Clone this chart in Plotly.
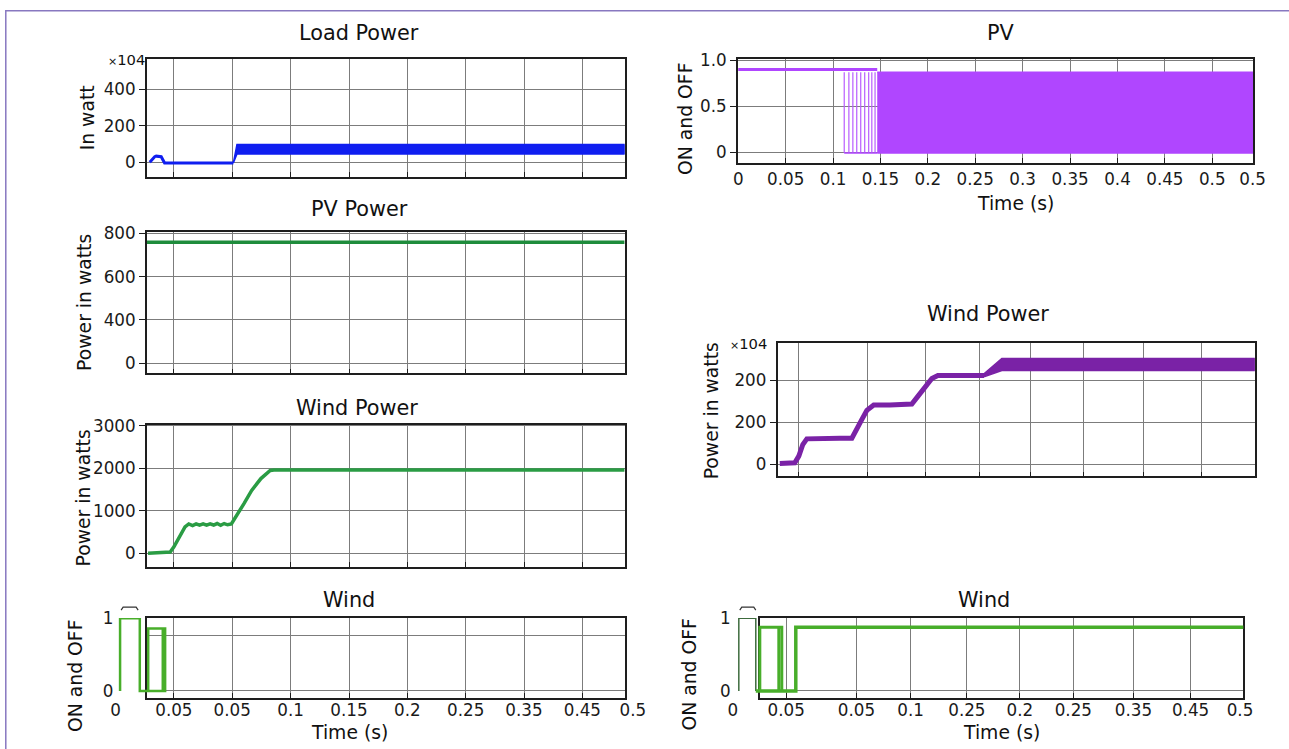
import plotly.graph_objects as go

W, H = 1289, 749
# the captured picture shows the page scaled by ~0.985 with a small offset;
# positions below are given in reference-picture pixels and mapped back to page pixels
S, OX, OY = 0.985, 6.0, 8.5

# ---------------- data ----------------
# Load Power (x10^4 W) vs time (s)
load_t = [0.0293, 0.0335, 0.0348, 0.0391, 0.0420, 0.1009]
load_p = [0, 30, 33, 30, -5, -5]
load_band_t = [0.1009, 0.1040, 0.4361]
load_band_hi = [-5, 97, 97]
load_band_lo = [-5, 45, 45]

# PV Power (W)
pv_power_t = [0.0268, 0.4361]
pv_power_w = [760, 760]

# Wind Power, left (W)
wind_t = [0.0278, 0.0360, 0.0440, 0.0468, 0.0500, 0.0546, 0.0595, 0.0627, 0.0660,
          0.0690, 0.0720, 0.0750, 0.0780, 0.0810, 0.0840, 0.0870, 0.0900, 0.0930,
          0.0960, 0.0992, 0.1040, 0.1100, 0.1166, 0.1245, 0.1325, 0.1357, 0.4361]
wind_w = [0, 20, 25, 30, 150, 385, 620, 690, 650, 690, 660, 690, 660, 690, 665,
          700, 660, 700, 670, 690, 890, 1170, 1480, 1760, 1950, 1960, 1960]

# Wind ON/OFF, bottom left
wl_t = [0.0039, 0.0039, 0.0208, 0.0208, 0.0425, 0.0425, 0.0280, 0.0280]
wl_s = [0, 1, 1, 0, 0, 0.86, 0.86, 0]
wl_edge_t = [0.0405, 0.0405]
wl_edge_s = [0, 0.86]

# PV ON/OFF (top right)
pv_level_t = [0.0, 0.1466]
pv_level = [0.902, 0.902]
pv_comb_t = [0.1118, 0.1167, 0.1209, 0.1250, 0.1292, 0.1334, 0.1376, 0.1409, 0.1443]
pv_on, pv_off = 0.87, -0.01
pv_band_t = [0.1466, 0.5433]

# Wind Power, right (x10^4 W)
wp_t = [0.0024, 0.0181, 0.0223, 0.0265, 0.0307, 0.0443, 0.0548, 0.0653, 0.0779,
        0.0831, 0.0884, 0.0936, 0.1008, 0.1177, 0.1282, 0.1407, 0.1470, 0.1544,
        0.1617, 0.1680, 0.1910, 0.2163]
wp_p = [5, 8, 40, 95, 122, 125, 125, 125, 125, 165, 215, 258, 284, 284, 286, 288,
        325, 372, 410, 424, 424, 425]
wp_band_t = [0.2163, 0.2350, 0.5]
wp_band_hi = [432, 506, 506]
wp_band_lo = [418, 448, 448]

# Wind ON/OFF, bottom right
wr_t = [0.0057, 0.0057, 0.0217, 0.0217]
wr_s = [0, 1, 1, 0]
wr_main_t = [0.0217, 0.0594, 0.0594, 0.4811]
wr_main_s = [0, 0, 0.877, 0.877]
wr_pulse_t = [0.0255, 0.0255, 0.0462, 0.0462]
wr_pulse_s = [0, 0.877, 0.877, 0]
wr_edge_t = [0.0434, 0.0434]
wr_edge_s = [0, 0.877]

# tick positions / labels
left_grid = [0.05, 0.10, 0.15, 0.20, 0.25, 0.30, 0.35, 0.40]
bl_tick_pos = [0, 0.05, 0.10, 0.15, 0.20, 0.25, 0.30, 0.35, 0.40, 0.4432]
bl_tick_txt = ["0", "0.05", "0.05", "0.1", "0.15", "0.2", "0.25", "0.35", "0.45", "0.5"]
pv_tick_pos = [0, 0.05, 0.10, 0.15, 0.20, 0.25, 0.30, 0.35, 0.40, 0.45, 0.50, 0.5425]
pv_tick_txt = ["0", "0.05", "0.1", "0.15", "0.2", "0.25", "0.3", "0.35", "0.4", "0.45", "0.5", "0.5"]
wp_grid = [0.0223, 0.0947, 0.1555, 0.2120, 0.2655, 0.3210, 0.3830, 0.4437]
br_tick_pos = [0, 0.0504, 0.1166, 0.1676, 0.2206, 0.2705, 0.3209, 0.3776, 0.4314, 0.478]
br_tick_txt = ["0", "0.05", "0.05", "0.1", "0.25", "0.2", "0.25", "0.35", "0.45", "0.5"]

# ---------------- styles ----------------
FONT = "DejaVu Sans"
BLUE = "#0f1ef0"
GREEN = "#1e8c3c"
GREEN2 = "#2a9c44"
LGREEN = "#48ae2a"
PURPLE = "#b046ff"
DPURPLE = "#7a22a6"
GRID = "#7c7c7c"
FRAME = "#1e1e1e"


def fx(px):
    return ((px - OX) / S) / W


def fy(py):
    return 1 - ((py - OY) / S) / H


def dx(a, b):
    return [fx(a), fx(b)]


def dy(top, bottom):
    return [fy(bottom), fy(top)]


def fs(size):
    return size / S


fig = go.Figure()


def line(x, y, ax, color, width):
    fig.add_trace(go.Scatter(x=x, y=y, mode="lines", xaxis="x" + ax, yaxis="y" + ax,
                             line=dict(color=color, width=width), hoverinfo="skip"))


def band(t, hi, lo, ax, color):
    fig.add_trace(go.Scatter(x=list(t) + list(t)[::-1], y=list(hi) + list(lo)[::-1],
                             mode="lines", fill="toself", fillcolor=color,
                             xaxis="x" + ax, yaxis="y" + ax,
                             line=dict(color=color, width=1.5), hoverinfo="skip"))


# 1 Load power
line(load_t, load_p, "", BLUE, 3)
band(load_band_t, load_band_hi, load_band_lo, "", BLUE)
# 2 PV power
line(pv_power_t, pv_power_w, "2", GREEN, 3.5)
# 3 Wind power left
line(wind_t, wind_w, "3", GREEN2, 3.5)
# 4 frame only
fig.add_trace(go.Scatter(x=[], y=[], xaxis="x4", yaxis="y4"))
# 5 PV switching
comb_x, comb_y = [], []
for t in pv_comb_t:
    comb_x += [t, t, None]
    comb_y += [pv_off, pv_on, None]
line(comb_x, comb_y, "5", "#b85cff", 1.2)
line([pv_comb_t[0], pv_band_t[0]], [pv_off, pv_off], "5", PURPLE, 1.5)
line(pv_level_t, pv_level, "5", PURPLE, 3)
band(pv_band_t, [pv_on, pv_on], [pv_off, pv_off], "5", PURPLE)
# 6 Wind power right
line(wp_t, wp_p, "6", DPURPLE, 5)
band(wp_band_t, wp_band_hi, wp_band_lo, "6", DPURPLE)
# 7 frame only
fig.add_trace(go.Scatter(x=[], y=[], xaxis="x7", yaxis="y7"))
# 8 bottom-left switching (drawn on a wider, invisible axis)
line(wl_t, wl_s, "8", LGREEN, 2.5)
line(wl_edge_t, wl_edge_s, "8", LGREEN, 2.5)
# 9 bottom-right switching
line(wr_t, wr_s, "9", "#3d6b3d", 1.5)
line(wr_main_t, wr_main_s, "9", LGREEN, 3.5)
line(wr_pulse_t, wr_pulse_s, "9", LGREEN, 3)
line(wr_edge_t, wr_edge_s, "9", LGREEN, 3)

tickfont = dict(family=FONT, size=fs(16.5), color="#1a1a1a")
boxx = dict(showline=True, mirror=True, linecolor=FRAME, linewidth=1.6, showgrid=True,
            gridcolor=GRID, gridwidth=1, zeroline=False, ticks="inside", ticklen=5,
            tickcolor=FRAME, tickfont=tickfont, tickmode="array", fixedrange=True)
boxy = dict(showline=True, mirror=True, linecolor=FRAME, linewidth=1.6, showgrid=True,
            gridcolor=GRID, gridwidth=1, zeroline=False, ticks="outside", ticklen=6,
            tickcolor=FRAME, tickfont=tickfont, tickmode="array", fixedrange=True)
hidden = dict(showline=False, showgrid=False, zeroline=False, ticks="", tickfont=tickfont,
              tickmode="array", fixedrange=True)

LEFT = dx(147.7, 625)
LRANGE = [0.0268, 0.4361]

layout = dict(
    xaxis=dict(boxx, domain=LEFT, range=LRANGE, tickvals=left_grid, showticklabels=False, anchor="y"),
    yaxis=dict(boxy, domain=dy(58, 176), range=[-82, 564], tickvals=[0, 200, 400], anchor="x"),
    xaxis2=dict(boxx, domain=LEFT, range=LRANGE, tickvals=left_grid, showticklabels=False, anchor="y2"),
    yaxis2=dict(boxy, domain=dy(230.7, 372.7), range=[153, 809], tickvals=[200, 400, 600, 800],
                ticktext=["0", "400", "600", "800"], anchor="x2"),
    xaxis3=dict(boxx, domain=LEFT, range=LRANGE, tickvals=left_grid, showticklabels=False, anchor="y3"),
    yaxis3=dict(boxy, domain=dy(424, 567), range=[-329, 3035], tickvals=[0, 1000, 2000, 3000], anchor="x3"),
    xaxis4=dict(boxx, domain=LEFT, range=LRANGE, tickvals=left_grid, showticklabels=False, anchor="y4"),
    yaxis4=dict(boxy, domain=dy(618, 698), range=[-0.096, 1.0], tickvals=[0, 0.767],
                showticklabels=False, ticks="", anchor="x4"),
    xaxis5=dict(boxx, domain=dx(738, 1253), range=[-0.0005, 0.5433], tickvals=pv_tick_pos,
                ticktext=pv_tick_txt, anchor="y5"),
    yaxis5=dict(boxy, domain=dy(58, 162), range=[-0.12, 1.011], tickvals=[0, 0.5, 1.0],
                ticktext=["0", "0.5", "1.0"], anchor="x5"),
    xaxis6=dict(boxx, domain=dx(777.7, 1254.5), range=[0, 0.5], tickvals=wp_grid,
                showticklabels=False, anchor="y6"),
    yaxis6=dict(boxy, domain=dy(342, 476), range=[-57, 581], tickvals=[0, 200, 400],
                ticktext=["0", "200", "200"], anchor="x6"),
    xaxis7=dict(boxx, domain=dx(760, 1243), range=[0.0255, 0.4811], tickvals=br_tick_pos[1:-1],
                showticklabels=False, anchor="y7"),
    yaxis7=dict(boxy, domain=dy(618, 698), range=[-0.096, 1.0], tickvals=[0],
                showticklabels=False, ticks="", anchor="x7"),
    xaxis8=dict(hidden, domain=dx(115.4, 640), range=[-0.00086, 0.4491], tickvals=bl_tick_pos,
                ticktext=bl_tick_txt, anchor="y8"),
    yaxis8=dict(hidden, domain=dy(618, 698), range=[-0.096, 1.003], tickvals=[0, 1],
                ticktext=["0", "1"], anchor="x8"),
    xaxis9=dict(hidden, domain=dx(732, 1250), range=[-0.00094, 0.4877], tickvals=br_tick_pos,
                ticktext=br_tick_txt, anchor="y9"),
    yaxis9=dict(hidden, domain=dy(618, 698), range=[-0.096, 1.003], tickvals=[0, 1],
                ticktext=["0", "1"], anchor="x9"),
)

annotations = []


def text(s, x, y, size, angle=0, color="#111111"):
    annotations.append(dict(text=s, x=fx(x), y=fy(y), xref="paper", yref="paper",
                            xanchor="center", yanchor="middle", showarrow=False,
                            textangle=angle, font=dict(family=FONT, size=fs(size), color=color)))


# titles
text("Load Power", 360, 32, 20.5)
text("PV Power", 360, 208, 20.5)
text("Wind Power", 358, 407, 20.5)
text("Wind", 350, 600, 20.5)
text("PV", 1001, 32, 20.5)
text("Wind Power", 988, 313, 20.5)
text("Wind", 984, 600, 20.5)
# axis titles
text("In watt", 88, 117, 18.5, -90)
text("Power in watts", 86, 302, 18.5, -90)
text("Power in watts", 84, 498, 18.5, -90)
text("ON and OFF", 77, 676, 18.5, -90)
text("ON and OFF", 686, 118, 18.5, -90)
text("Power in watts", 712, 410, 18.5, -90)
text("ON and OFF", 690, 675, 18.5, -90)
text("Time (s)", 1015, 202, 18.5)
text("Time (s)", 350, 733, 18.5)
text("Time (s)", 1001, 733, 18.5)
# exponent labels
text('<span style="font-size:11px">×</span>104', 127, 58, 14.5)
text('<span style="font-size:11px">×</span>104', 749, 343, 14.5)

shapes = [
    dict(type="rect", xref="paper", yref="paper", x0=0.8 / W, y0=1 - 0.8 / H, x1=1.02, y1=-0.02,
         line=dict(color="#8878c0", width=1.5), fillcolor="rgba(0,0,0,0)", layer="below"),
]


def bracket(x0, x1, y):
    p = "M {a},{b} L {c},{d} L {e},{d} L {f},{b}".format(
        a=fx(x0), b=fy(y + 3), c=fx(x0 + 2), d=fy(y), e=fx(x1 - 2), f=fx(x1))
    shapes.append(dict(type="path", xref="paper", yref="paper", path=p,
                       line=dict(color="#333333", width=1.2)))


bracket(122, 139, 607)
bracket(740, 756, 607)

fig.update_layout(layout)
fig.update_layout(width=W, height=H, autosize=False, margin=dict(l=0, r=0, t=0, b=0),
                  paper_bgcolor="white", plot_bgcolor="rgba(0,0,0,0)", showlegend=False,
                  font=dict(family=FONT, size=16, color="#1a1a1a"),
                  annotations=annotations, shapes=shapes)

fig.write_html("out.html", default_width=f"{W}px", default_height=f"{H}px",
               config={"responsive": False, "displayModeBar": False},
               post_script="document.documentElement.style.margin='0';"
                           "document.body.style.margin='0';"
                           "document.body.style.padding='0';"
                           "document.body.style.overflow='hidden';")
